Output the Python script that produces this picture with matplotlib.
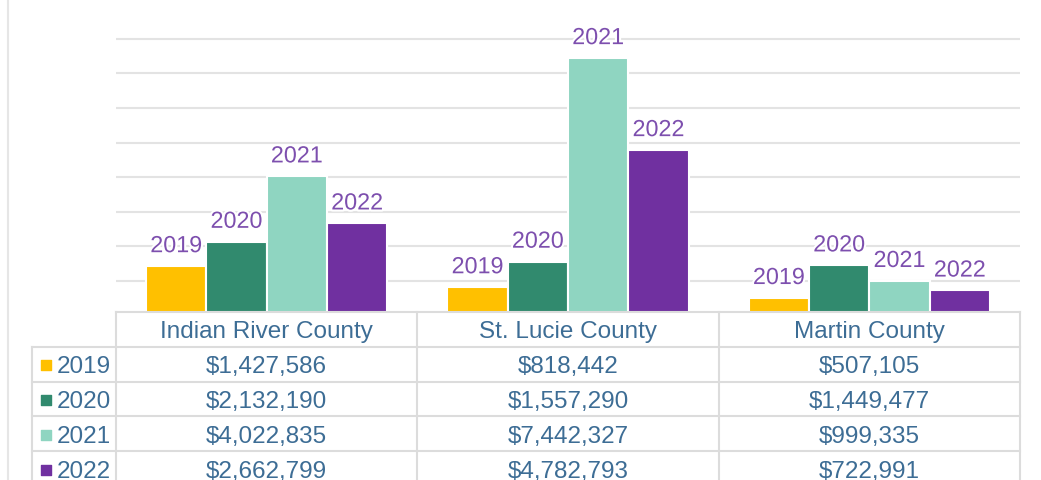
import matplotlib.pyplot as plt
import matplotlib.patheffects as pe

plt.rcParams['font.family'] = ['Liberation Sans', 'DejaVu Sans']

# data
counties = ['Indian River County', 'St. Lucie County', 'Martin County']
years = ['2019', '2020', '2021', '2022']
v2019 = [1427586, 818442, 507105]
v2020 = [2132190, 1557290, 1449477]
v2021 = [4022835, 7442327, 999335]
v2022 = [2662799, 4782793, 722991]
series = [v2019, v2020, v2021, v2022]
colors = ['#FFC000', '#318A6E', '#8FD5C1', '#7030A0']

label_color = '#7d4fae'
text_color = '#3d6d95'
line_color = '#dcdcdc'

W, H = 1041, 480
fig = plt.figure(figsize=(W / 100, H / 100), dpi=100)

# chart area (pixel layout)
left, right, base = 116, 1020, 312
ax = fig.add_axes([left / W, (H - base) / H, (right - left) / W, base / H])
ax.set_xlim(-0.5, len(counties) - 0.5)
ax.set_ylim(0.1e6, 9.12e6)
ax.set_yticks([i * 1e6 for i in range(1, 9)])
ax.yaxis.grid(True, color='#e3e3e3', linewidth=1.5)
ax.set_axisbelow(True)
ax.tick_params(left=False, bottom=False, labelleft=False, labelbottom=False)
for s in ax.spines.values():
    s.set_visible(False)

bw = 0.2
for i, (yr, vals, c) in enumerate(zip(years, series, colors)):
    xs = [k + (i - 1.5) * bw for k in range(len(counties))]
    ax.bar(xs, vals, width=bw, color=c, edgecolor='white', linewidth=1.5)
    for x, v in zip(xs, vals):
        ax.annotate(yr, (x, v), xytext=(0, 10), textcoords='offset points',
                    ha='center', va='baseline', fontsize=16.8, color=label_color,
                    path_effects=[pe.withStroke(linewidth=3, foreground='white')])

# data table below the chart
tax = fig.add_axes([0, 0, 1, 1])
tax.set_xlim(0, W)
tax.set_ylim(H, 0)
tax.axis('off')

tax.plot([8, 8], [0, H], color='#e6e6e6', lw=1.5)

col_w = (right - left) / len(counties)
row_h = 34.8
lab_left = 32
n_rows = len(years) + 1
bottom = base + n_rows * row_h
dy = 3  # nudge text down to sit centred in the cells

# horizontal lines
tax.plot([left, right], [base, base], color=line_color, lw=1.5)
for r in range(1, n_rows + 1):
    y = base + r * row_h
    tax.plot([lab_left, right], [y, y], color=line_color, lw=1.5)
# vertical lines
for k in range(len(counties) + 1):
    x = left + k * col_w
    tax.plot([x, x], [base, bottom], color=line_color, lw=1.5)
tax.plot([lab_left, lab_left], [base + row_h, bottom], color=line_color, lw=1.5)

for k, name in enumerate(counties):
    tax.text(left + (k + 0.5) * col_w, base + row_h / 2 + dy, name, ha='center',
             va='center', fontsize=17.5, color=text_color)

for i, (yr, vals, c) in enumerate(zip(years, series, colors)):
    yc = base + (i + 1.5) * row_h
    tax.scatter([46], [yc + 1], marker='s', s=45, color=c)
    tax.text(57, yc + dy, yr, ha='left', va='center', fontsize=17.5, color=text_color)
    for k, v in enumerate(vals):
        tax.text(left + (k + 0.5) * col_w, yc + dy, f'${v:,}', ha='center',
                 va='center', fontsize=17.5, color=text_color)

fig.savefig('out.png', dpi=100)
